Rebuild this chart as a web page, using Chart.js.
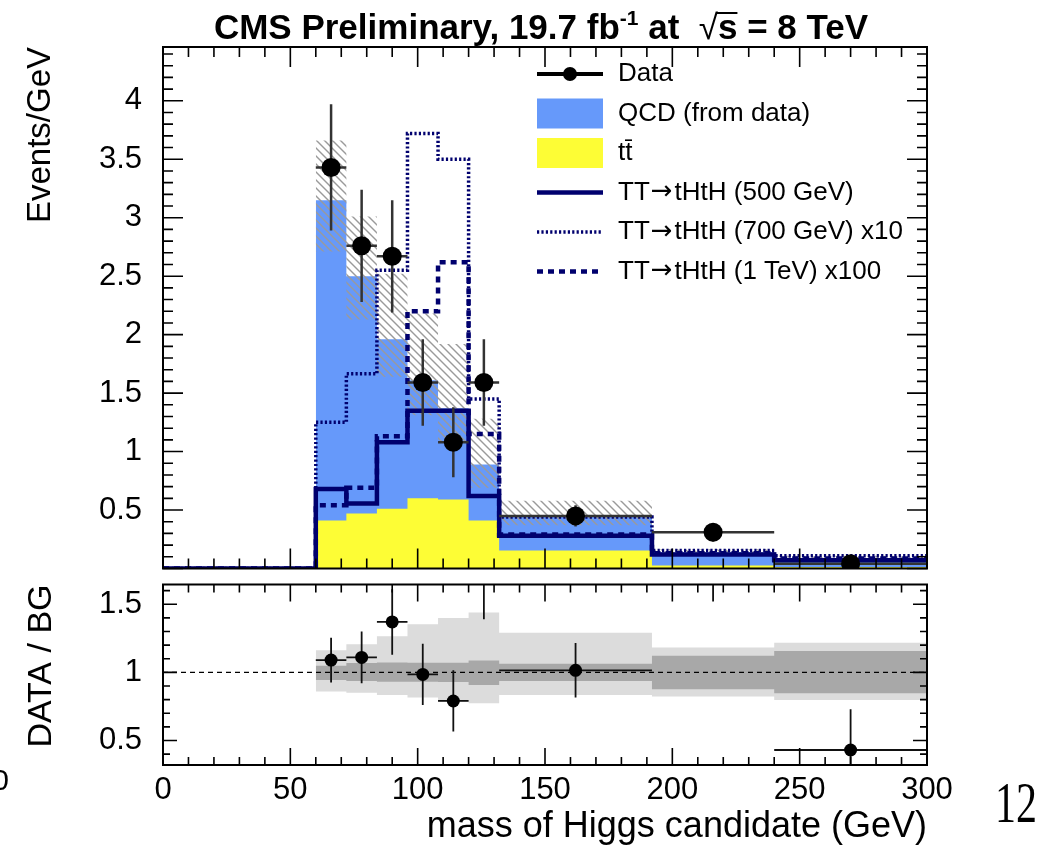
<!DOCTYPE html>
<html>
<head>
<meta charset="utf-8">
<title>mass of Higgs candidate</title>
<script src="https://cdn.jsdelivr.net/npm/chart.js@4.4.1/dist/chart.umd.min.js"></script>
<style>
  html, body { margin: 0; padding: 0; background: #fff; }
  #page { position: relative; width: 1049px; height: 852px; overflow: hidden; }
  #page canvas { position: absolute; left: 0; }
</style>
</head>
<body>
<div id="page">
  <canvas id="mainPad" width="1049" height="578" style="top:0"></canvas>
  <canvas id="ratioPad" width="1049" height="274" style="top:578px"></canvas>
</div>
<script>
// bin edges (GeV)
const massEdges = [60, 72, 84, 96, 108, 120, 132, 192, 240, 300];

// events / GeV
const dataVals = [3.43, 2.76, 2.67, 1.59, 1.08, 1.59, 0.45, 0.31, 0.04];
const dataErr  = [0.54, 0.48, 0.48, 0.37, 0.30, 0.37, 0.09, 0.08, 0.03];
const ttbarVals = [0.41, 0.47, 0.51, 0.60, 0.59, 0.41, 0.155, 0.025, 0.012];
const bgTotal  = [3.15, 2.50, 1.96, 1.61, 1.37, 0.89, 0.45, 0.14, 0.09]; // QCD stacked on ttbar
const bgUp     = [3.66, 3.01, 2.52, 2.18, 1.92, 1.28, 0.58, 0.165, 0.11];
const bgDown   = [2.71, 2.13, 1.64, 1.31, 1.08, 0.69, 0.37, 0.115, 0.07];
const sig500   = [0.68, 0.555, 1.08, 1.35, 1.35, 0.62, 0.28, 0.12, 0.07];
const sig700x10  = [1.25, 1.665, 2.55, 3.72, 3.50, 1.45, 0.44, 0.155, 0.11];
const sig1TeVx100 = [0.54, 0.69, 1.13, 2.20, 2.62, 1.15, 0.29, 0.13, 0.085];

// data / background
const ratioVals = [1.09, 1.11, 1.37, 0.985, 0.79, 1.79, 1.015, 2.1, 0.43];
const ratioErr  = [0.165, 0.19, 0.24, 0.225, 0.225, 0.40, 0.20, 0.58, 0.30];
const ratioStatUp   = [1.049, 1.068, 1.073, 1.07, 1.07, 1.088, 1.063, 1.122, 1.156];
const ratioStatDown = [0.944, 0.937, 0.932, 0.932, 0.93, 0.907, 0.937, 0.876, 0.846];
const ratioSystUp   = [1.163, 1.207, 1.266, 1.354, 1.40, 1.44, 1.29, 1.183, 1.217];
const ratioSystDown = [0.859, 0.851, 0.834, 0.815, 0.785, 0.773, 0.834, 0.822, 0.797];

// axis labels
const mainYTicks = [0.5, 1, 1.5, 2, 2.5, 3, 3.5, 4];
const ratioYTicks = [0.5, 1, 1.5];
const massTicks = [0, 50, 100, 150, 200, 250, 300];

const FONT = "'Liberation Sans', Arial, Helvetica, sans-serif";
const ARROW_FONT = "'DejaVu Sans', sans-serif";
const NAVY = '#00006e';
const QCD_BLUE = '#6699fa';
const TT_YELLOW = '#fdfd35';

const binCenters = massEdges.slice(0, -1).map((e, i) => (e + massEdges[i + 1]) / 2);
const binHalf = massEdges.slice(0, -1).map((e, i) => (massEdges[i + 1] - e) / 2);

// histogram outline: one flat segment per bin
function histPoints(vals, fromZero) {
  const pts = fromZero ? [{x: 0, y: 0}, {x: massEdges[0], y: 0}] : [];
  vals.forEach((v, i) => {
    pts.push({x: massEdges[i], y: v});
    pts.push({x: massEdges[i + 1], y: v});
  });
  return pts;
}

function hatch(ctx) {
  const c = document.createElement('canvas');
  c.width = 8; c.height = 8;
  const g = c.getContext('2d');
  g.strokeStyle = '#9a9a9a';
  g.lineWidth = 1.4;
  for (const k of [-8, 0, 8]) {
    g.beginPath(); g.moveTo(k - 1, -1); g.lineTo(k + 9, 9); g.stroke();
  }
  return ctx.createPattern(c, 'repeat');
}

// data error bars, drawn just before the markers
const errorBars = {
  id: 'errorBars',
  beforeDatasetDraw(chart, args) {
    const ds = chart.data.datasets[args.index];
    if (!ds.yErr) return;
    const {ctx, chartArea: a, scales: {x, y}} = chart;
    ctx.save();
    ctx.beginPath();
    ctx.rect(a.left, a.top, a.right - a.left, a.bottom - a.top);
    ctx.clip();
    ctx.strokeStyle = ds.errColor;
    ctx.lineWidth = ds.errWidth;
    ds.data.forEach((p, i) => {
      const px = x.getPixelForValue(p.x), py = y.getPixelForValue(p.y);
      ctx.beginPath();
      ctx.moveTo(x.getPixelForValue(p.x - binHalf[i]), py);
      ctx.lineTo(x.getPixelForValue(p.x + binHalf[i]), py);
      ctx.moveTo(px, y.getPixelForValue(p.y + ds.yErr[i]));
      ctx.lineTo(px, y.getPixelForValue(p.y - ds.yErr[i]));
      ctx.stroke();
    });
    ctx.restore();
  }
};

// frame with inward ticks on all four sides
function framePlugin(t) {
  return {
    id: 'rootFrame',
    afterDatasetsDraw(chart) {
      const {ctx, chartArea: a, scales: {x, y}} = chart;
      ctx.save();
      ctx.strokeStyle = '#000';
      ctx.lineWidth = 1.6;
      for (let v = x.min; v <= x.max + 1e-9; v += 10) {
        const len = v % 50 === 0 ? t.xMajor : t.xMinor;
        const px = x.getPixelForValue(v);
        ctx.beginPath();
        ctx.moveTo(px, a.bottom); ctx.lineTo(px, a.bottom - len);
        ctx.moveTo(px, a.top); ctx.lineTo(px, a.top + len);
        ctx.stroke();
      }
      for (let k = Math.ceil(y.min * 10 - 1e-6); k / 10 <= y.max + 1e-9; k++) {
        const len = k % 5 === 0 ? t.yMajor : t.yMinor;
        const py = y.getPixelForValue(k / 10);
        ctx.beginPath();
        ctx.moveTo(a.left, py); ctx.lineTo(a.left + len, py);
        ctx.moveTo(a.right, py); ctx.lineTo(a.right - len, py);
        ctx.stroke();
      }
      ctx.lineWidth = 2;
      ctx.strokeRect(a.left, a.top, a.right - a.left, a.bottom - a.top);
      ctx.restore();
    }
  };
}

function drawTitle(ctx) {
  const big = `bold 35px ${FONT}`, small = `bold 21px ${FONT}`;
  const parts = [
    {t: 'CMS Preliminary, 19.7 fb', f: big, dy: 0},
    {t: '-1', f: small, dy: -14},
    {t: ' at  ', f: big, dy: 0},
    {t: '\u221A', f: `35px ${FONT}`, dy: 0},
    {t: 's', f: big, dy: 0, bar: true},
    {t: ' = 8 TeV', f: big, dy: 0}
  ];
  ctx.save();
  ctx.fillStyle = '#000';
  ctx.textBaseline = 'alphabetic';
  let total = 0;
  parts.forEach(p => { ctx.font = p.f; p.w = ctx.measureText(p.t).width; total += p.w; });
  let x = 541 - total / 2;
  const base = 39;
  parts.forEach(p => {
    ctx.font = p.f;
    ctx.fillText(p.t, x, base + p.dy);
    if (p.bar) {
      ctx.fillRect(x - 2, base - 27, p.w + 2, 2);
    }
    x += p.w;
  });
  ctx.restore();
}

// legend text, with the arrow taken from a font that has a full-size glyph
function legendText(ctx, text, x, y) {
  const pieces = text.split('\u2192');
  pieces.forEach((piece, i) => {
    ctx.font = `26px ${FONT}`;
    ctx.fillText(piece, x, y);
    x += ctx.measureText(piece).width;
    if (i < pieces.length - 1) {
      ctx.font = `26px ${ARROW_FONT}`;
      ctx.fillText('\u2192', x + 1, y);
      x += ctx.measureText('\u2192').width + 3;
    }
  });
}

function drawLegend(chart) {
  const ctx = chart.ctx;
  const ds = chart.data.datasets;
  const rows = [ds[0], ds[7], ds[6], ds[1], ds[2], ds[3]];
  ctx.save();
  ctx.textBaseline = 'middle';
  ctx.fillStyle = '#000';
  rows.forEach((d, i) => {
    const yc = 74 + i * 39.5;
    if (d.legendKind === 'data') {
      ctx.strokeStyle = '#000'; ctx.lineWidth = 4; ctx.setLineDash([]);
      ctx.beginPath(); ctx.moveTo(537, yc); ctx.lineTo(603, yc); ctx.stroke();
      ctx.beginPath(); ctx.arc(570, yc, 7, 0, Math.PI * 2); ctx.fill();
    } else if (d.legendKind === 'box') {
      ctx.fillStyle = d.backgroundColor;
      ctx.fillRect(537, yc - 15, 66, 30);
    } else {
      ctx.strokeStyle = d.borderColor; ctx.lineWidth = d.borderWidth;
      ctx.setLineDash(d.borderDash || []);
      ctx.beginPath(); ctx.moveTo(537, yc); ctx.lineTo(603, yc); ctx.stroke();
      ctx.setLineDash([]);
    }
    ctx.fillStyle = '#000';
    legendText(ctx, d.label, 618, yc);
  });
  ctx.restore();
}

const mainDecor = {
  id: 'mainDecor',
  afterDraw(chart) {
    drawTitle(chart.ctx);
    drawLegend(chart);
  }
};

const pageText = {
  id: 'pageText',
  afterDraw(chart) {
    const ctx = chart.ctx;
    ctx.save();
    ctx.fillStyle = '#000';
    ctx.font = `30px ${FONT}`;
    ctx.textAlign = 'right';
    ctx.textBaseline = 'middle';
    ctx.fillText('0', 9, 204);
    ctx.textAlign = 'left';
    ctx.textBaseline = 'alphabetic';
    ctx.font = `42px 'Liberation Serif', 'Times New Roman', serif`;
    ctx.translate(995, 244);
    ctx.scale(1, 1.35);
    ctx.fillText('12', 0, 0);
    ctx.restore();
  }
};

const mainCtx = document.getElementById('mainPad').getContext('2d');
const ratioCtx = document.getElementById('ratioPad').getContext('2d');

function fixedBox(w, h) {
  return s => {
    if (w !== null) s.width = w;
    if (h !== null) s.height = h;
    s.paddingTop = 0; s.paddingBottom = 0; s.paddingLeft = 0; s.paddingRight = 0;
  };
}

const lineBase = {type: 'line', pointRadius: 0, tension: 0, borderCapStyle: 'butt', borderJoinStyle: 'miter'};

new Chart(mainCtx, {
  type: 'line',
  data: {
    datasets: [
      {label: 'Data', legendKind: 'data', data: binCenters.map((c, i) => ({x: c, y: dataVals[i]})),
       showLine: false, pointRadius: 9.5, pointBackgroundColor: '#000', pointBorderWidth: 0,
       yErr: dataErr, errColor: '#333', errWidth: 2.5, order: 0},
      {...lineBase, label: 'TT\u2192tHtH (500 GeV)', data: histPoints(sig500, true),
       borderColor: NAVY, borderWidth: 4.5, fill: false, order: 2},
      {...lineBase, label: 'TT\u2192tHtH (700 GeV) x10', data: histPoints(sig700x10, true),
       borderColor: NAVY, borderWidth: 3.5, borderDash: [2.2, 2.2], fill: false, order: 2},
      {...lineBase, label: 'TT\u2192tHtH (1 TeV) x100', data: histPoints(sig1TeVx100, true),
       borderColor: NAVY, borderWidth: 4.5, borderDash: [6, 5], fill: false, order: 2},
      {...lineBase, label: 'bg up', data: histPoints(bgUp), borderWidth: 0,
       fill: '+1', backgroundColor: hatch(mainCtx), order: 4},
      {...lineBase, label: 'bg down', data: histPoints(bgDown), borderWidth: 0, fill: false, order: 4},
      {...lineBase, label: 't\u0074\u0304', legendKind: 'box', data: histPoints(ttbarVals), borderWidth: 0,
       fill: 'origin', backgroundColor: TT_YELLOW, order: 5},
      {...lineBase, label: 'QCD (from data)', legendKind: 'box', data: histPoints(bgTotal), borderWidth: 0,
       fill: 'origin', backgroundColor: QCD_BLUE, order: 6}
    ]
  },
  options: {
    responsive: false,
    animation: false,
    events: [],
    layout: {padding: {top: 47, right: 122, left: 0, bottom: 0}},
    plugins: {legend: {display: false}, tooltip: {enabled: false}},
    scales: {
      x: {
        type: 'linear', min: 0, max: 300,
        grid: {display: false}, border: {display: false},
        ticks: {display: false},
        afterFit: fixedBox(null, 3)
      },
      y: {
        type: 'linear', min: 0, max: 4.46,
        grid: {display: false}, border: {display: false},
        afterBuildTicks: s => { s.ticks = mainYTicks.map(v => ({value: v})); },
        ticks: {color: '#000', padding: 13, font: {family: FONT, size: 31}, callback: v => String(v)},
        title: {display: true, text: 'Events/GeV', align: 'end', color: '#000',
                font: {family: FONT, size: 33}, padding: {top: 21}},
        afterFit: fixedBox(163, null)
      }
    }
  },
  plugins: [errorBars, framePlugin({xMajor: 20, xMinor: 10, yMajor: 20, yMinor: 10}), mainDecor]
});

new Chart(ratioCtx, {
  type: 'line',
  data: {
    datasets: [
      {label: 'ratio', data: binCenters.map((c, i) => ({x: c, y: ratioVals[i]})),
       showLine: false, pointRadius: 6.5, pointBackgroundColor: '#000', pointBorderWidth: 0,
       yErr: ratioErr, errColor: '#111', errWidth: 1.8, order: 0},
      {...lineBase, label: 'unity', data: [{x: 0, y: 1}, {x: 300, y: 1}],
       borderColor: '#000', borderWidth: 1.2, borderDash: [5, 4], fill: false, order: 1},
      {...lineBase, label: 'stat up', data: histPoints(ratioStatUp), borderWidth: 0,
       fill: '+1', backgroundColor: '#a8a8a8', order: 2},
      {...lineBase, label: 'stat down', data: histPoints(ratioStatDown), borderWidth: 0, fill: false, order: 2},
      {...lineBase, label: 'syst up', data: histPoints(ratioSystUp), borderWidth: 0,
       fill: '+1', backgroundColor: '#dcdcdc', order: 3},
      {...lineBase, label: 'syst down', data: histPoints(ratioSystDown), borderWidth: 0, fill: false, order: 3}
    ]
  },
  options: {
    responsive: false,
    animation: false,
    events: [],
    layout: {padding: {top: 5, right: 122, left: 0, bottom: 0}},
    plugins: {legend: {display: false}, tooltip: {enabled: false}},
    scales: {
      x: {
        type: 'linear', min: 0, max: 300,
        grid: {display: false}, border: {display: false},
        afterBuildTicks: s => { s.ticks = massTicks.map(v => ({value: v})); },
        ticks: {color: '#000', padding: 2, maxRotation: 0, autoSkip: false,
                font: {family: FONT, size: 31, lineHeight: 1}, callback: v => String(v)},
        title: {display: true, text: 'mass of Higgs candidate (GeV)', align: 'end', color: '#000',
                font: {family: FONT, size: 36}, padding: {bottom: 3}},
        afterFit: fixedBox(null, 87)
      },
      y: {
        type: 'linear', min: 0.32, max: 1.645,
        grid: {display: false}, border: {display: false},
        afterBuildTicks: s => { s.ticks = ratioYTicks.map(v => ({value: v})); },
        ticks: {color: '#000', padding: 13, font: {family: FONT, size: 31}, callback: v => String(v)},
        title: {display: true, text: 'DATA / BG', align: 'end', color: '#000',
                font: {family: FONT, size: 34}, padding: {top: 21}},
        afterFit: fixedBox(163, null)
      }
    }
  },
  plugins: [errorBars, framePlugin({xMajor: 17, xMinor: 8, yMajor: 14, yMinor: 7}), pageText]
});
</script>
</body>
</html>
